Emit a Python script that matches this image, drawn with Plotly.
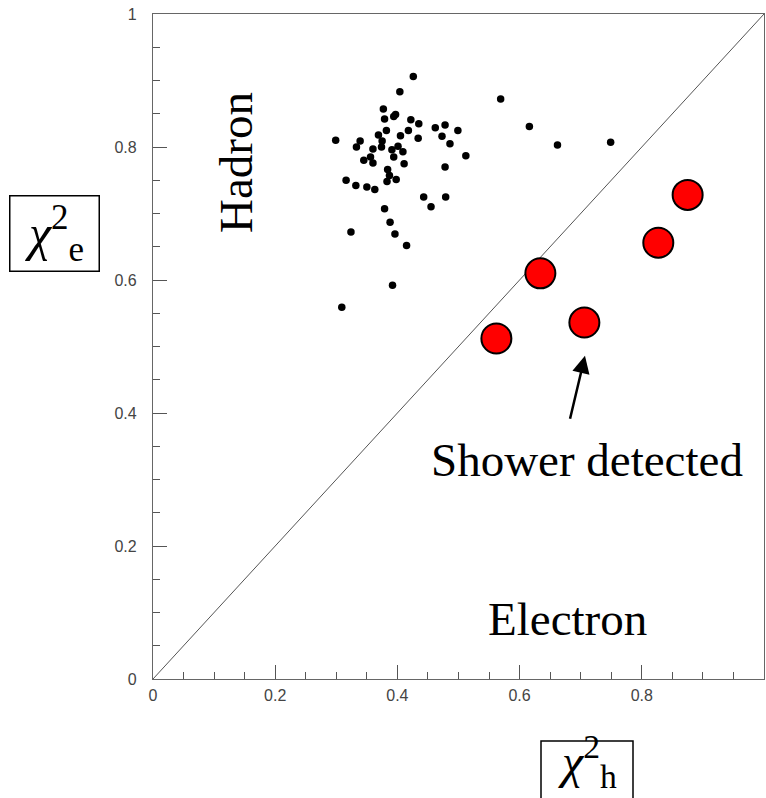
import plotly.graph_objects as go

# Hadron candidates (black dots): chi2_h, chi2_e
hadron_x = [0.426, 0.404, 0.569, 0.377, 0.379, 0.394, 0.397, 0.422, 0.435, 0.462,
            0.478, 0.499, 0.382, 0.418, 0.369, 0.405, 0.434, 0.473, 0.486, 0.299,
            0.339, 0.333, 0.375, 0.374, 0.360, 0.391, 0.401, 0.409, 0.394, 0.512,
            0.356, 0.345, 0.360, 0.411, 0.478, 0.384, 0.387, 0.398, 0.383, 0.316,
            0.332, 0.350, 0.363, 0.443, 0.479, 0.455, 0.379, 0.388, 0.324, 0.396,
            0.415, 0.392, 0.309, 0.616, 0.662, 0.749]
hadron_y = [0.906, 0.883, 0.872, 0.857, 0.842, 0.846, 0.849, 0.841, 0.835, 0.829,
            0.833, 0.825, 0.825, 0.825, 0.818, 0.817, 0.813, 0.816, 0.805, 0.810,
            0.809, 0.800, 0.809, 0.800, 0.797, 0.796, 0.801, 0.793, 0.785, 0.787,
            0.785, 0.780, 0.776, 0.775, 0.770, 0.766, 0.757, 0.751, 0.748, 0.750,
            0.742, 0.740, 0.736, 0.725, 0.725, 0.710, 0.707, 0.687, 0.672, 0.669,
            0.652, 0.592, 0.559, 0.831, 0.803, 0.807]

# Events with a detected shower (red circles)
shower_x = [0.562, 0.634, 0.706, 0.827, 0.875]
shower_y = [0.512, 0.610, 0.536, 0.656, 0.728]

# Separation line chi2_e = chi2_h
diag = [0.0, 1.0]

tick_vals = [0, 0.2, 0.4, 0.6, 0.8, 1]
tick_text = ["0", "0.2", "0.4", "0.6", "0.8", "1"]

W, H = 766, 798
L, R, T, B = 153, 2, 14, 119
PW, PH = W - L - R, H - T - B


def px_x(p):
    return (p - L) / PW


def px_y(p):
    return (H - B - p) / PH


fig = go.Figure()
fig.add_trace(go.Scatter(x=diag, y=diag, mode="lines",
                         line=dict(color="#555555", width=1), hoverinfo="skip"))
fig.add_trace(go.Scatter(x=hadron_x, y=hadron_y, mode="markers",
                         marker=dict(size=7.5, color="black")))
fig.add_trace(go.Scatter(x=shower_x, y=shower_y, mode="markers",
                         marker=dict(size=30, color="#ff0000",
                                     line=dict(color="black", width=2))))

axis_common = dict(
    range=[0, 1], showgrid=False, zeroline=False,
    showline=True, linecolor="#666666", linewidth=1.2, mirror=True,
    ticks="inside", ticklen=14, tickwidth=1, tickcolor="#555555",
    tickvals=tick_vals, ticktext=tick_text,
    minor=dict(dtick=0.05, ticks="inside", ticklen=7, tickcolor="#555555", showgrid=False),
    tickfont=dict(family="Liberation Sans, Arial, sans-serif", size=16, color="#444444"),
)
fig.update_xaxes(**axis_common, ticklabelstandoff=2)
fig.update_yaxes(**axis_common, ticklabelstandoff=12)

serif = "Liberation Serif, Times New Roman, serif"
fig.add_annotation(x=0.137, y=0.777, xref="x", yref="y", text="Hadron",
                   textangle=-90, showarrow=False,
                   font=dict(family=serif, size=47, color="black"))
fig.add_annotation(x=0.710, y=0.330, xref="x", yref="y", text="Shower detected",
                   showarrow=False, font=dict(family=serif, size=47, color="black"))
fig.add_annotation(x=0.678, y=0.090, xref="x", yref="y", text="Electron",
                   showarrow=False, font=dict(family=serif, size=47, color="black"))

# Arrow pointing at the shower event
fig.add_annotation(x=0.707, y=0.486, ax=0.682, ay=0.389, xref="x", yref="y",
                   axref="x", ayref="y", text="", showarrow=True,
                   arrowhead=2, arrowsize=1.4, arrowwidth=2.5, arrowcolor="black")

# Boxed y-axis label
fig.add_annotation(x=px_x(54), y=px_y(233), xref="paper", yref="paper",
                   xanchor="center", yanchor="middle",
                   text="<i>χ</i><sup>2</sup><sub>e</sub>", showarrow=False,
                   width=86, height=72, bordercolor="black", borderwidth=1.5, borderpad=1,
                   font=dict(family=serif, size=50, color="black"))

# Boxed x-axis label: frame runs past the bottom edge of the page
fig.add_shape(type="rect", xref="paper", yref="paper",
              x0=px_x(541), x1=px_x(633), y0=px_y(815), y1=px_y(741),
              line=dict(color="black", width=1.5), fillcolor="rgba(0,0,0,0)")
fig.add_annotation(x=px_x(587), y=px_y(797), xref="paper", yref="paper",
                   xanchor="center", yanchor="bottom",
                   text="<i>χ</i><sup>2</sup><sub>h</sub>", showarrow=False,
                   font=dict(family=serif, size=48, color="black"))

fig.update_layout(
    width=W, height=H, margin=dict(l=L, r=R, t=T, b=B),
    paper_bgcolor="white", plot_bgcolor="white", showlegend=False,
)

fig.write_html("out.html")
